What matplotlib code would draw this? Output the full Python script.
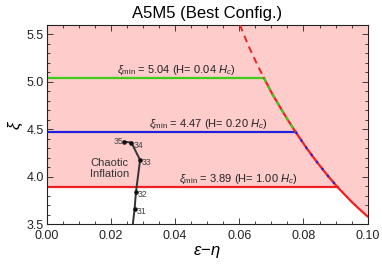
import matplotlib
matplotlib.use("Agg")
import matplotlib.pyplot as plt
import numpy as np
from matplotlib.ticker import MultipleLocator, FormatStrFormatter

plt.rcParams['font.family'] = ['Liberation Sans', 'DejaVu Sans']
plt.rcParams['mathtext.fontset'] = 'custom'
plt.rcParams['mathtext.rm'] = 'Liberation Sans'
plt.rcParams['mathtext.it'] = 'Liberation Sans:italic'

# boundary curve (xi vs epsilon-eta)
curve_x = [0.0602, 0.0630, 0.0655, 0.0677, 0.0700, 0.0725, 0.0750, 0.0776,
           0.0810, 0.0840, 0.0875, 0.0906, 0.0950, 0.0975, 0.1000]
curve_y = [5.60, 5.37, 5.19, 5.04, 4.89, 4.745, 4.605, 4.47,
           4.30, 4.163, 4.013, 3.89, 3.735, 3.655, 3.58]

# xi_min levels
xi_min = [5.04, 4.47, 3.89]
h_vals = ["0.04", "0.20", "1.00"]
level_colors = ["#3fcc1a", "#2020dd", "#ee2020"]
label_x = [0.0405, 0.0504, 0.0597]

# chaotic inflation track
track_x = [0.0265, 0.0274, 0.0278, 0.0291, 0.0264, 0.0241]
track_y = [3.40, 3.662, 3.834, 4.176, 4.359, 4.370]
track_n = ["", "31", "32", "33", "34", "35"]

fig = plt.figure(figsize=(3.82, 2.69), dpi=100)
ax = fig.add_axes([0.1222, 0.167, 0.8403, 0.740])
ax.set_xlim(0.0, 0.1)
ax.set_ylim(3.5, 5.6)

pink = "#ffcccc"
cx = np.array(curve_x); cy = np.array(curve_y)
m = cy <= xi_min[-1]
poly_x = [0.0] + list(cx[m]) + [0.1, 0.0]
poly_y = [xi_min[-1]] + list(cy[m]) + [5.6, 5.6]
ax.fill(poly_x, poly_y, color=pink, lw=0, zorder=0)

# horizontal lines ending at the curve
for lvl, col in zip(xi_min, level_colors):
    xe = np.interp(lvl, cy[::-1], cx[::-1])
    ax.plot([0, xe], [lvl, lvl], color=col, lw=1.6, zorder=2)

# curve: dashed above top level, solid below
up = cy >= xi_min[0]
ax.plot(cx[up], cy[up], color="#ee2020", lw=1.4, ls=(0, (3.5, 2.5)), zorder=3)
lo = cy <= xi_min[0]
ax.plot(cx[lo], cy[lo], color="#ee2020", lw=1.6, zorder=3)
g = (cy <= xi_min[0]) & (cy >= xi_min[1])
ax.plot(cx[g], cy[g], color=level_colors[0], lw=1.6, ls=(0, (2, 2)), zorder=4)
b = (cy <= xi_min[1]) & (cy >= xi_min[2])
ax.plot(cx[b], cy[b], color=level_colors[1], lw=1.6, ls=(0, (1, 3)), zorder=4)

for lvl, h, lx in zip(xi_min, h_vals, label_x):
    ax.text(lx, lvl + 0.015, r'$\xi_{\rm min}$ = %.2f (H= %s $H_c$)' % (lvl, h),
            ha='center', va='bottom', fontsize=8, color='#222222', zorder=5)

# chaotic inflation track
ax.plot(track_x, track_y, color="#333333", lw=1.4, zorder=5)
ax.plot(track_x[1:], track_y[1:], 'o', color="#111111", ms=2.3, zorder=6)
for x, y, n in zip(track_x, track_y, track_n):
    if not n:
        continue
    if n == "35":
        ax.text(x - 0.0003, y, n, ha='right', va='center', fontsize=6.3, color='#444444', zorder=6)
    else:
        ax.text(x + 0.0006, y - 0.025, n, ha='left', va='center', fontsize=6.3, color='#444444', zorder=6)
ax.text(0.0197, 4.09, "Chaotic\nInflation", ha='center', va='center', fontsize=8,
        color='#333333', linespacing=1.1, zorder=6)

ax.xaxis.set_major_locator(MultipleLocator(0.02))
ax.xaxis.set_minor_locator(MultipleLocator(0.005))
ax.yaxis.set_major_locator(MultipleLocator(0.5))
ax.yaxis.set_minor_locator(MultipleLocator(0.1))
ax.xaxis.set_major_formatter(FormatStrFormatter('%.2f'))
ax.yaxis.set_major_formatter(FormatStrFormatter('%.1f'))
ax.tick_params(which='both', direction='in', top=True, right=True, labelsize=9,
               colors='#222222', width=0.6)
ax.tick_params(axis='x', pad=4)
ax.tick_params(axis='y', pad=2)
ax.tick_params(which='major', length=4)
ax.tick_params(which='minor', length=2)
for s in ax.spines.values():
    s.set_linewidth(0.8)
    s.set_color('#222222')

ax.set_xlabel(r'$\epsilon\!-\!\eta$', fontsize=12, labelpad=2)
ax.set_ylabel(r'$\xi$', fontsize=12, labelpad=1)
ax.set_title("A5M5 (Best Config.)", fontsize=12, pad=5)

fig.savefig("out.png", dpi=100)
